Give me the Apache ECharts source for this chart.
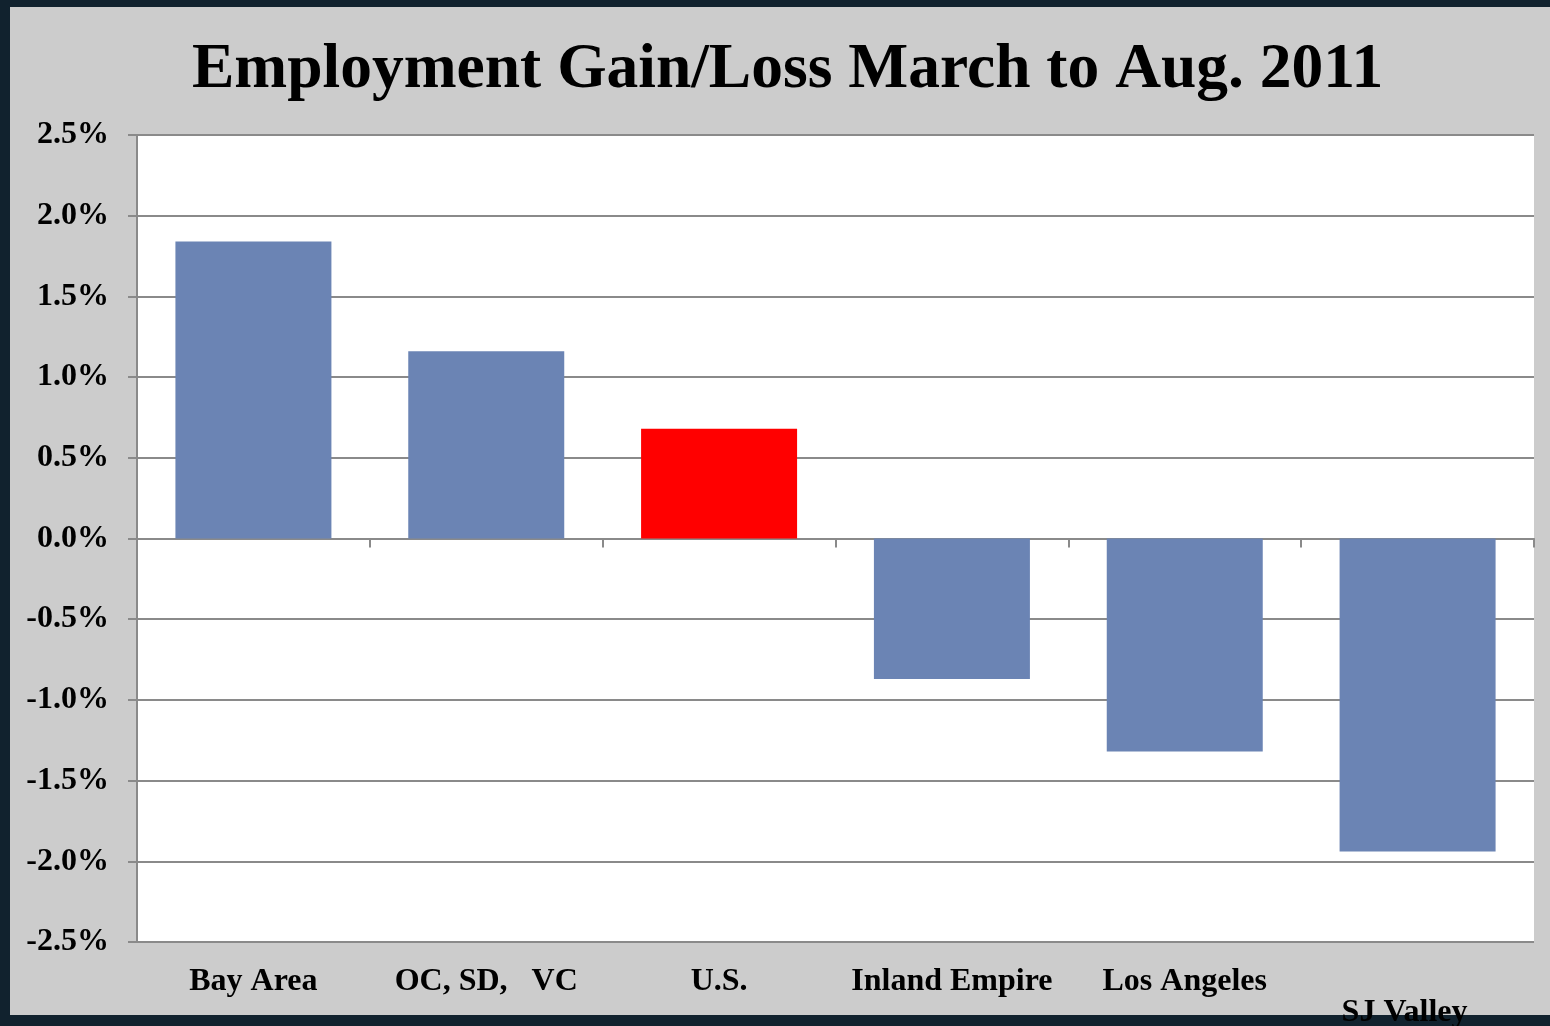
<!DOCTYPE html>
<html>
<head>
<meta charset="utf-8">
<title>Employment Gain/Loss</title>
<script src="https://cdn.jsdelivr.net/npm/echarts@6/dist/echarts.min.js"></script>
<style>
    html, body { margin: 0; padding: 0; background: #11222e; }
    #chart { width: 1550px; height: 1026px; }
</style>
</head>
<body>
<div id="chart"></div>
<script>
    // data (percent change)
    var categories = ['Bay Area', 'OC, SD,   VC', 'U.S.', 'Inland Empire', 'Los Angeles', 'SJ Valley'];
    var changes = [1.84, 1.16, 0.68, -0.87, -1.32, -1.94];
    var highlight = 'U.S.';
    var yTicks = { min: -2.5, max: 2.5, step: 0.5 };

    var font = 'Liberation Serif';
    var myChart = echarts.init(document.getElementById('chart'));

    var option = {
        backgroundColor: '#11222e',
        animation: false,
        graphic: [
            {
                type: 'rect',
                z: -100,
                silent: true,
                shape: { x: 10, y: 7, width: 1540, height: 1008 },
                style: { fill: '#cccccc' }
            }
        ],
        title: {
            text: 'Employment Gain/Loss March to Aug. 2011',
            left: 187,
            top: 34,
            textStyle: {
                fontFamily: font,
                fontWeight: 'bold',
                fontSize: 63.5,
                color: '#000'
            }
        },
        grid: {
            left: 137,
            right: 16,
            top: 135,
            bottom: 84,
            outerBoundsMode: 'none',
            show: true,
            backgroundColor: '#ffffff',
            borderWidth: 0
        },
        xAxis: [
            {
                type: 'category',
                data: categories,
                position: 'bottom',
                axisLine: { onZero: true, lineStyle: { color: '#8a8a8a', width: 2 } },
                axisTick: { show: true, length: 9, lineStyle: { color: '#8a8a8a', width: 2 } },
                axisLabel: { show: false }
            },
            {
                type: 'category',
                data: categories,
                position: 'bottom',
                axisLine: { show: false, onZero: false },
                axisTick: { show: false },
                axisLabel: {
                    margin: 24,
                    interval: 0,
                    fontFamily: font,
                    fontWeight: 'bold',
                    fontSize: 32,
                    lineHeight: 31,
                    color: '#000',
                    formatter: function (value, index) {
                        // last label sits lower and a bit left, as in the original
                        return index == categories.length - 1 ? '{low|' + value + '}' : value;
                    },
                    rich: {
                        low: {
                            fontFamily: font,
                            fontWeight: 'bold',
                            fontSize: 32,
                            lineHeight: 31,
                            color: '#000',
                            padding: [62, 26, 0, 0]
                        }
                    }
                }
            }
        ],
        yAxis: {
            type: 'value',
            min: yTicks.min,
            max: yTicks.max,
            interval: yTicks.step,
            axisLine: { show: true, lineStyle: { color: '#8a8a8a', width: 2 } },
            axisTick: { show: true, length: 9, lineStyle: { color: '#8a8a8a', width: 2 } },
            splitLine: { show: true, lineStyle: { color: '#8a8a8a', width: 2 } },
            axisLabel: {
                margin: 28,
                fontFamily: font,
                fontWeight: 'bold',
                fontSize: 32,
                color: '#000',
                formatter: function (v) {
                    return v.toFixed(1) + '%';
                }
            }
        },
        series: [
            {
                type: 'bar',
                xAxisIndex: 0,
                barWidth: '67%',
                data: changes,
                itemStyle: {
                    color: function (params) {
                        return params.name == highlight ? '#ff0000' : '#6b84b4';
                    }
                }
            }
        ]
    };
    myChart.setOption(option);
</script>
</body>
</html>
